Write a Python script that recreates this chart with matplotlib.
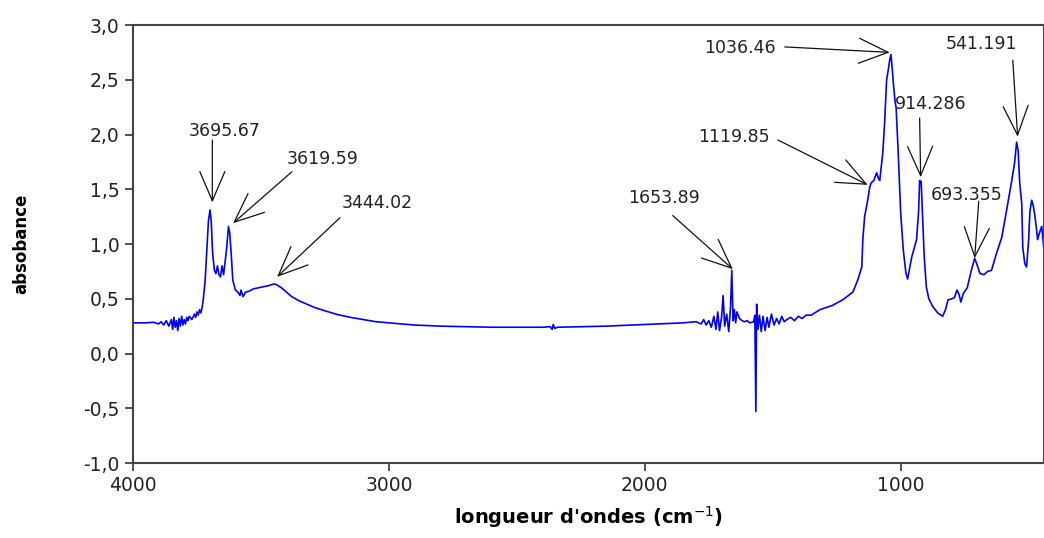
import matplotlib
matplotlib.use('Agg')
import matplotlib.pyplot as plt
import numpy as np

# spectrum (wavenumber cm-1, absorbance)
wavenumber = [4000, 3950, 3920, 3900, 3890, 3880, 3870, 3860, 3850, 3845, 3840, 3835, 3830, 3825,
              3820, 3815, 3810, 3805, 3800, 3795, 3790, 3785, 3780, 3770, 3760, 3755, 3750, 3745,
              3740, 3735, 3730, 3725, 3718, 3712, 3705, 3699, 3694, 3689, 3682, 3676, 3670, 3664,
              3658, 3652, 3646, 3640, 3634, 3627, 3622, 3616, 3610, 3600, 3590, 3582, 3578, 3570,
              3560, 3545, 3530, 3510, 3490, 3470, 3450, 3440, 3420, 3400, 3380, 3350, 3320, 3290,
              3250, 3200, 3150, 3100, 3050, 3000, 2950, 2900, 2800, 2700, 2600, 2500, 2400, 2370,
              2362, 2358, 2352, 2340, 2250, 2150, 2050, 1950, 1850, 1800, 1780, 1770, 1760, 1750,
              1740, 1730, 1722, 1715, 1708, 1700, 1694, 1688, 1680, 1672, 1665, 1660, 1655, 1650,
              1645, 1640, 1630, 1620, 1610, 1600, 1590, 1575, 1570, 1566, 1563, 1558, 1552, 1545,
              1538, 1530, 1522, 1515, 1505, 1495, 1485, 1475, 1465, 1455, 1445, 1430, 1415, 1400,
              1385, 1370, 1350, 1316, 1266, 1227, 1187, 1168, 1152, 1148, 1141, 1129, 1121, 1115,
              1105, 1094, 1087, 1082, 1070, 1063, 1055, 1048, 1043, 1038, 1033, 1028, 1022, 1018,
              1010, 1000, 990, 980, 973, 965, 957, 945, 938, 930, 926, 920, 915, 908, 900, 890,
              875, 855, 836, 825, 815, 800, 790, 780, 772, 765, 755, 740, 725, 711, 700, 690,
              675, 660, 645, 625, 605, 586, 566, 555, 547, 541, 535, 527, 523, 515, 508, 500,
              495, 488, 482, 477, 470, 465, 458, 449, 441]
absorbance = [0.28, 0.28, 0.285, 0.27, 0.29, 0.26, 0.30, 0.25, 0.31, 0.22, 0.33, 0.24, 0.30, 0.21,
              0.32, 0.25, 0.34, 0.26, 0.31, 0.27, 0.33, 0.30, 0.34, 0.31, 0.36, 0.33, 0.38, 0.35,
              0.40, 0.37, 0.42, 0.50, 0.67, 0.92, 1.22, 1.31, 1.20, 0.92, 0.76, 0.73, 0.80, 0.72,
              0.70, 0.80, 0.72, 0.84, 0.96, 1.16, 1.10, 0.90, 0.67, 0.58, 0.56, 0.53, 0.58, 0.52,
              0.56, 0.57, 0.59, 0.60, 0.61, 0.62, 0.635, 0.63, 0.60, 0.56, 0.52, 0.48, 0.45, 0.42,
              0.39, 0.355, 0.33, 0.31, 0.29, 0.28, 0.27, 0.26, 0.25, 0.245, 0.24, 0.24, 0.24, 0.245,
              0.22, 0.265, 0.23, 0.24, 0.245, 0.25, 0.26, 0.27, 0.28, 0.29, 0.27, 0.31, 0.26, 0.30,
              0.24, 0.34, 0.22, 0.38, 0.21, 0.33, 0.53, 0.25, 0.36, 0.20, 0.42, 0.76, 0.30, 0.40,
              0.28, 0.38, 0.32, 0.30, 0.29, 0.30, 0.28, 0.29, 0.35, -0.53, 0.45, 0.22, 0.35, 0.20,
              0.34, 0.21, 0.33, 0.24, 0.36, 0.26, 0.32, 0.27, 0.34, 0.29, 0.31, 0.33, 0.30, 0.34,
              0.32, 0.35, 0.35, 0.40, 0.44, 0.49, 0.56, 0.67, 0.79, 1.04, 1.25, 1.40, 1.52, 1.56,
              1.58, 1.65, 1.60, 1.58, 1.83, 2.10, 2.50, 2.60, 2.68, 2.73, 2.60, 2.45, 2.30, 2.25,
              1.85, 1.28, 0.95, 0.74, 0.68, 0.78, 0.88, 0.98, 1.04, 1.30, 1.58, 1.57, 1.28, 0.88,
              0.61, 0.50, 0.43, 0.37, 0.34, 0.40, 0.49, 0.50, 0.51, 0.58, 0.54, 0.47, 0.55, 0.60,
              0.75, 0.87, 0.80, 0.73, 0.72, 0.75, 0.76, 0.92, 1.06, 1.31, 1.58, 1.74, 1.93, 1.85,
              1.56, 1.37, 0.97, 0.82, 0.79, 1.04, 1.30, 1.40, 1.35, 1.28, 1.15, 1.04, 1.10, 1.16, 0.97]

# peak labels, arrow tips and arrow tails (wavenumber, absorbance)
peak_labels = ['3695.67', '3619.59', '3444.02', '1653.89', '1036.46', '1119.85', '914.286', '693.355', '541.191']
tip_x = [3690, 3609, 3437, 1656, 1043, 1129, 922, 711, 543]
tip_y = [1.38, 1.19, 0.70, 0.77, 2.75, 1.54, 1.61, 0.87, 1.98]
tail_x = [3690, 3379, 3191, 1891, 1453, 1480, 926, 695, 562]
tail_y = [1.95, 1.66, 1.24, 1.26, 2.80, 1.95, 2.15, 1.39, 2.68]
text_x = [3641, 3258, 3047, 1926, 1629, 1652, 883, 742, 684]
text_y = [2.03, 1.78, 1.37, 1.42, 2.79, 1.98, 2.28, 1.45, 2.83]

y_ticks = [-1.0, -0.5, 0.0, 0.5, 1.0, 1.5, 2.0, 2.5, 3.0]
y_tick_labels = ['-1,0', '-0,5', '0,0', '0,5', '1,0', '1,5', '2,0', '2,5', '3,0']
x_ticks = [4000, 3000, 2000, 1000]

fig = plt.figure(figsize=(10.44, 5.38), dpi=100)
ax = fig.add_axes([0.1274, 0.1394, 0.8726, 0.8141])

ax.plot(wavenumber, absorbance, color='#0000ff', lw=1.2)

for lab, tx, ty, ax0, ay0, lx, ly in zip(peak_labels, tip_x, tip_y, tail_x, tail_y, text_x, text_y):
    ax.annotate('', xy=(tx, ty), xytext=(ax0, ay0),
                arrowprops=dict(arrowstyle='->,head_length=2.1,head_width=0.9',
                                color='#111111', lw=0.9, shrinkA=0, shrinkB=0,
                                mutation_scale=10))
    ax.text(lx, ly, lab, fontsize=12.5, ha='center', va='center', color='#222222')

ax.set_xlim(4000, 440)
ax.set_ylim(-1.0, 3.0)
ax.set_xticks(x_ticks)
ax.set_yticks(y_ticks)
ax.set_yticklabels(y_tick_labels)
ax.tick_params(axis='both', direction='out', length=6, width=1.2, labelsize=13.5,
               colors='#333333', labelcolor='#222222')
for s in ax.spines.values():
    s.set_color('#444444')
    s.set_linewidth(1.5)

ax.set_ylabel('absobance', fontsize=12, fontweight='bold')
ax.yaxis.set_label_coords(-0.113, 0.5)
ax.set_xlabel("longueur d'ondes (cm$^{-1}$)", fontsize=14, fontweight='bold')
ax.xaxis.set_label_coords(0.5, -0.093)

fig.savefig('out.png', dpi=100)
